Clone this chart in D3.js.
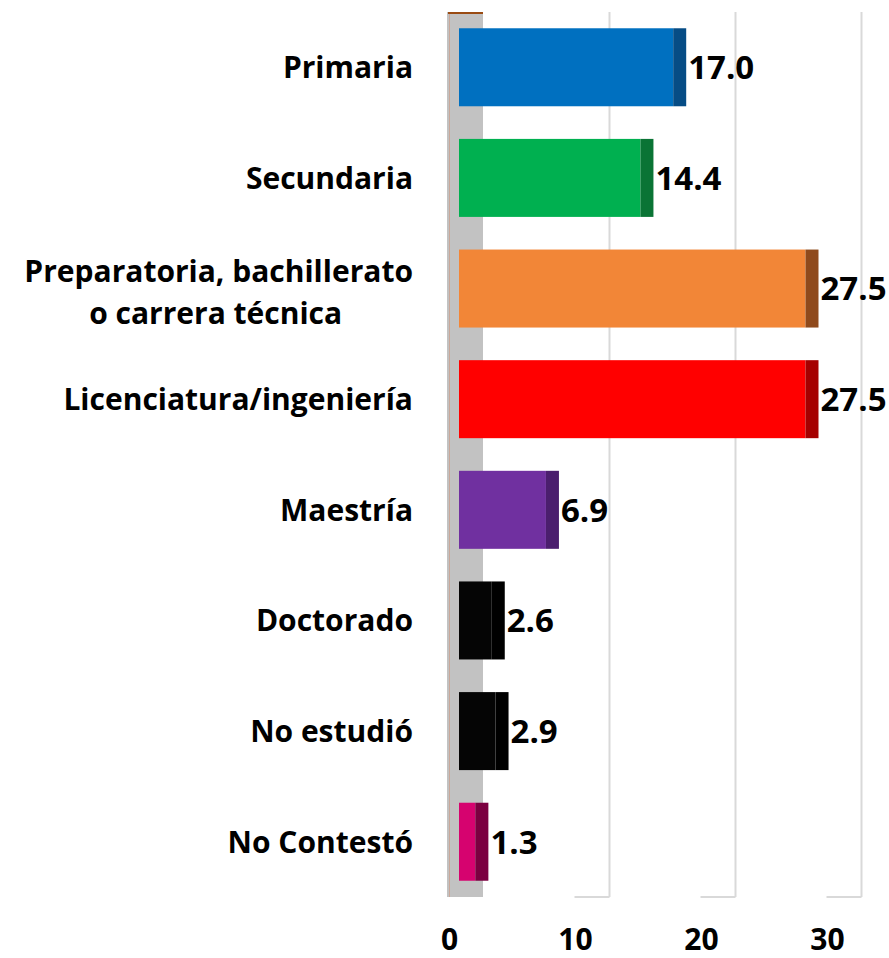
<!DOCTYPE html>
<html>
<head>
<meta charset="utf-8">
<script src="https://cdn.jsdelivr.net/npm/d3@7"></script>
<style>
  html, body { margin: 0; padding: 0; background: #ffffff; }
  svg { display: block; }
  text { font-family: "Open Sans", Lato, sans-serif; font-weight: 700; fill: #000; }
</style>
</head>
<body>
<svg id="chart" width="889" height="958"></svg>
<script>
// Nivel de estudios (porcentaje)
const categories = [
  "Primaria",
  "Secundaria",
  "Preparatoria, bachillerato\no carrera técnica",
  "Licenciatura/ingeniería",
  "Maestría",
  "Doctorado",
  "No estudió",
  "No Contestó"
];
const values = [17.0, 14.4, 27.5, 27.5, 6.9, 2.6, 2.9, 1.3];
const frontColors = ["#0070c0", "#00b050", "#f28637", "#ff0000", "#7030a0", "#050505", "#050505", "#d6036f"];
const sideColors  = ["#064c85", "#0a7435", "#8f4a1c", "#a50000", "#4b1e6e", "#000000", "#000000", "#7b0040"];
const tickValues = [0, 10, 20, 30];

const svg = d3.select("#chart");

// Oblique 3-D look: axis labels on the front plane, bars a little deeper, gridlines on the back wall
const plotTop = 12, plotBottom = 897;
const labelPlane = 449, barPlane = 459, backPlane = 483;
const depth = backPlane - labelPlane + 1;
const sideW = 13;

const x = d3.scaleLinear().domain([0, 30]).range([0, 378]);
const y = d3.scaleBand()
  .domain(categories)
  .range([plotTop, plotBottom])
  .paddingInner(0.295)
  .paddingOuter(0.147);

// Side wall at zero
svg.append("rect")
  .attr("x", 447).attr("y", plotTop)
  .attr("width", backPlane - 447).attr("height", plotBottom - plotTop)
  .attr("fill", "#c2c2c2");
svg.append("line")
  .attr("x1", 449.5).attr("x2", 449.5)
  .attr("y1", plotTop).attr("y2", plotBottom)
  .attr("stroke", "#c9a89a").attr("stroke-width", 1);
svg.append("line")
  .attr("x1", 448).attr("x2", backPlane)
  .attr("y1", plotTop + 1).attr("y2", plotTop + 1)
  .attr("stroke", "#9a4b12").attr("stroke-width", 2);

// Back-wall gridlines with their floor segments
const grid = svg.append("g");
tickValues.filter(v => v > 0).forEach(v => {
  const gx = backPlane + x(v) + 0.5;
  grid.append("line")
    .attr("x1", gx).attr("x2", gx)
    .attr("y1", plotTop).attr("y2", plotBottom)
    .attr("stroke", "#d9d9d9").attr("stroke-width", 2);
  grid.append("line")
    .attr("x1", gx - depth).attr("x2", gx)
    .attr("y1", plotBottom).attr("y2", plotBottom)
    .attr("stroke", "#d9d9d9").attr("stroke-width", 2);
});

// Bars: front face plus darker right-hand side face
const bars = svg.append("g").selectAll("g")
  .data(categories.map((c, i) => ({ c, v: values[i], i })))
  .join("g");

bars.append("rect")
  .attr("x", barPlane)
  .attr("y", d => y(d.c))
  .attr("width", d => x(d.v))
  .attr("height", y.bandwidth())
  .attr("fill", d => frontColors[d.i]);

bars.append("rect")
  .attr("x", d => barPlane + x(d.v))
  .attr("y", d => y(d.c))
  .attr("width", sideW)
  .attr("height", y.bandwidth())
  .attr("fill", d => sideColors[d.i]);

// Value labels
bars.append("text")
  .attr("x", d => barPlane + x(d.v) + sideW + 2)
  .attr("y", d => y(d.c) + y.bandwidth() / 2)
  .attr("dy", "0.36em")
  .attr("font-size", 33)
  .text(d => d.v.toFixed(1));

// Category labels (wrapped lines are centred on each other, block right-aligned)
const catG = svg.append("g");
const labelRight = 413;
const catSize = 30;
categories.forEach(c => {
  const lines = c.split("\n");
  const cy = y(c) + y.bandwidth() / 2;
  if (lines.length === 1) {
    catG.append("text")
      .attr("text-anchor", "end")
      .attr("font-size", catSize)
      .attr("x", labelRight)
      .attr("y", cy)
      .attr("dy", "0.36em")
      .text(c);
    return;
  }
  const lh = 42;
  const tmp = catG.append("text").attr("font-size", catSize).text(lines[0]);
  const w0 = tmp.node().getComputedTextLength();
  tmp.remove();
  const mid = labelRight - w0 / 2 - 3;
  lines.forEach((ln, k) => {
    catG.append("text")
      .attr("text-anchor", k === 0 ? "end" : "middle")
      .attr("font-size", catSize)
      .attr("x", k === 0 ? labelRight : mid)
      .attr("y", cy + (k - (lines.length - 1) / 2) * lh + 3.5)
      .attr("dy", "0.36em")
      .text(ln);
  });
});

// Value axis along the front plane
const axis = d3.axisBottom(x).tickValues(tickValues).tickSize(0).tickPadding(0).tickFormat(d3.format("d"));
const axG = svg.append("g")
  .attr("transform", `translate(${labelPlane},0)`)
  .call(axis);
axG.select(".domain").remove();
axG.selectAll("text")
  .attr("y", 939)
  .attr("dy", "0.36em")
  .attr("font-size", 30)
  .attr("font-family", "'Open Sans', Lato, sans-serif")
  .attr("font-weight", 700)
  .attr("fill", "#000");
</script>
</body>
</html>
